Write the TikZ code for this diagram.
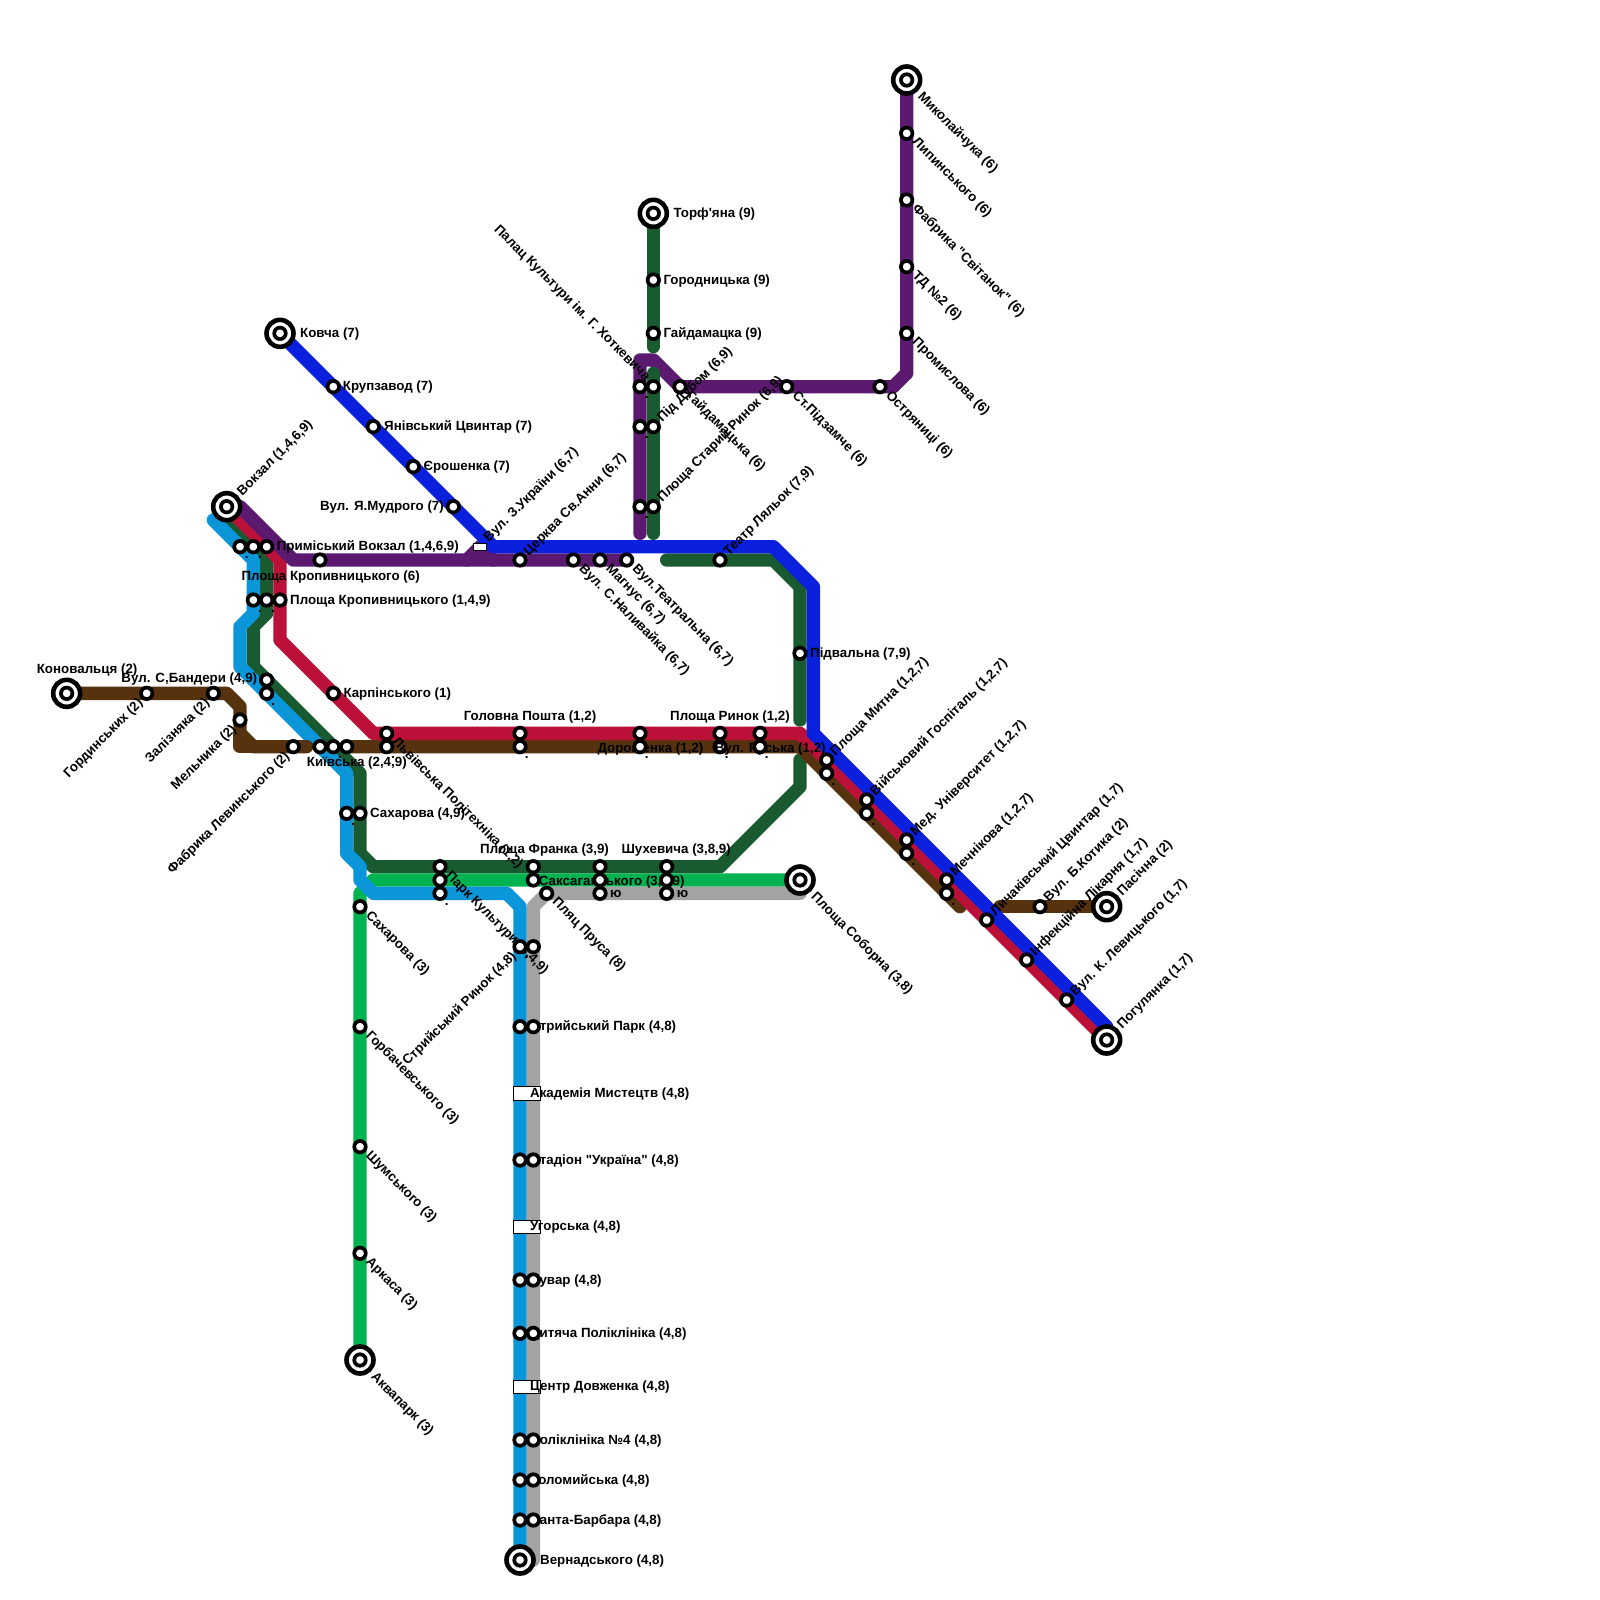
\documentclass[tikz,border=0pt]{standalone}
\usepackage{fontspec}
\newfontfamily\lblfont{Liberation Sans}
\definecolor{cDG}{HTML}{1A5A30}
\definecolor{cBG}{HTML}{00B350}
\definecolor{cGR}{HTML}{A3A3A3}
\definecolor{cLB}{HTML}{0A96D8}
\definecolor{cBR}{HTML}{57320F}
\definecolor{cRD}{HTML}{BB1138}
\definecolor{cPU}{HTML}{5B1A70}
\definecolor{cBL}{HTML}{0A20DC}
\newcounter{nid}
\newcommand\stn[2]{\stepcounter{nid}\node[stnode] (s\thenid) at (#1,#2) {};}
\newcommand\term[2]{\stepcounter{nid}\node[termouter] (t\thenid) at (#1,#2) {};\node[stnode] (s\thenid) at (#1,#2) {};}
\newcommand\rectst[4]{\stepcounter{nid}\node[rectnode,minimum width=#3*13.333pt,minimum height=#4*13.333pt] (r\thenid) at (#1,#2) {};}
\newcommand\LE[3]{\stepcounter{nid}\node[lbl,anchor=west] (l\thenid) at (#1,#2) {#3};}
\newcommand\LW[3]{\stepcounter{nid}\node[lbl,anchor=east] (l\thenid) at (#1,#2) {#3};}
\newcommand\LC[3]{\stepcounter{nid}\node[lbl] (l\thenid) at (#1,#2) {#3};}
\newcommand\LD[3]{\stepcounter{nid}\node[lbl,anchor=west,rotate=-45] (l\thenid) at ({#1+0.6},{#2+0.5}) {#3};}
\newcommand\LDT[3]{\stepcounter{nid}\node[lbl,anchor=west,rotate=-45] (l\thenid) at ({#1+1},{#2+1.1}) {#3};}
\newcommand\LU[3]{\stepcounter{nid}\node[lbl,anchor=west,rotate=45] (l\thenid) at ({#1+0.45},{#2-0.5}) {#3};}
\newcommand\LUT[3]{\stepcounter{nid}\node[lbl,anchor=west,rotate=45] (l\thenid) at ({#1+0.95},{#2-1}) {#3};}
\newcommand\LB[3]{\stepcounter{nid}\node[lbl,anchor=east,rotate=45] (l\thenid) at ({#1-0.45},{#2+0.55}) {#3};}
\newcommand\dotl[2]{\stepcounter{nid}\node[dotlbl] (d\thenid) at ({#1+0.5},{#2+0.9}) {.};}
\tikzset{
 metro/.style={line width=13.333pt,line cap=round,line join=round},
 stnode/.style={circle,draw=black,fill=white,line width=3.7pt,minimum size=11.5pt,inner sep=0pt,outer sep=0pt},
 termouter/.style={circle,draw=black,fill=white,line width=4.6pt,minimum size=27pt,inner sep=0pt,outer sep=0pt},
 rectnode/.style={rectangle,draw=black,fill=white,line width=0.8pt,inner sep=0pt,outer sep=0pt},
 lbl/.style={font=\lblfont\fontsize{13.33}{15}\selectfont\bfseries,text=black,inner sep=0pt,text height=11pt,text depth=3pt},
 dotlbl/.style={font=\lblfont\fontsize{13.33}{15}\selectfont\bfseries,text=black,inner sep=0pt,anchor=base}
}
\begin{document}
\begin{tikzpicture}[x=13.3333pt,y=-13.3333pt]
\useasboundingbox[fill=white] (0,0) rectangle (120,120);
% lines
\draw[metro,cDG] (49,16)--(49,26);
\draw[metro,cDG] (50,42)--(58,42)--(60,44)--(60,54);
\draw[metro,cDG] (17,39)--(19,41)--(20,42)--(20,46)--(19,47)--(19,50)--(27,58)--(27,64)--(28,65)--(54,65)--(60,59)--(60,57);
\draw[metro,cBG] (27,102)--(27,67)--(28,66)--(60,66);
\draw[metro,cGR] (60,67)--(41,67)--(40,68)--(40,117);
\draw[metro,cLB] (16,39)--(18,41)--(19,42)--(19,46)--(18,47)--(18,50)--(26,58)--(26,64)--(27,65)--(27,66)--(28,67)--(38,67)--(39,68)--(39,117);
\draw[metro,cBR] (5,52)--(17,52)--(18,53)--(18,55)--(19,56)--(23,56);
\draw[metro,cBR] (18,55)--(18,56)--(19,56);
\draw[metro,cBR] (26,56)--(60,56)--(72,68);
\draw[metro,cBR] (75,68)--(83,68);
\draw[metro,cRD] (17,38)--(21,42)--(21,48)--(28,55)--(60,55)--(83,78);
\draw[metro,cPU] (18,38)--(22,42)--(47,42);
\draw[metro,cPU] (35,42)--(36,41)--(37,42);
\draw[metro,cPU] (68,6)--(68,28)--(67,29)--(51,29)--(49,27)--(48,27)--(48,40);
\draw[metro,cDG] (49,28)--(49,40);
\draw[metro,cBL] (21,25)--(37,41)--(58,41)--(61,44)--(61,55)--(83,77);
% stations below the labels
\rectst{36}{41}{1}{0.55}\rectst{39.5}{82}{2}{1}\rectst{39.5}{92}{2}{1}\rectst{39.5}{104}{2}{1}
\stn{54}{56}
% labels
\LE{22.5}{25}{Ковча (7)}
\LE{50.5}{16}{Торф'яна (9)}
\LE{49.75}{21}{Городницька (9)}
\LE{49.75}{25}{Гайдамацка (9)}
\LE{25.7}{29}{Крупзавод (7)}
\LE{28.8}{32}{Янівський Цвинтар (7)}
\LE{31.75}{35}{Єрошенка (7)}
\LW{33.3}{38}{Вул. Я.Мудрого (7)}
\LE{20.75}{41}{Приміський Вокзал (1,4,6,9)}
\LE{18.1}{43.2}{Площа Кропивницького (6)}
\LE{21.75}{45}{Площа Кропивницького (1,4,9)}
\LW{19.3}{50.9}{Вул. С,Бандери (4,9)}
\LE{25.75}{52}{Карпінського (1)}
\LE{2.75}{50.2}{Коновальця (2)}
\LE{23}{57.2}{Київська (2,4,9)}
\LE{27.75}{61}{Сахарова (4,9)}
\LC{39.75}{53.7}{Головна Пошта (1,2)}
\LC{54.75}{53.7}{Площа Ринок (1,2)}
\LE{44.8}{56.1}{Дорошенка (1,2)}
\LE{53.6}{56.1}{Вул. Руська (1,2)}
\LE{36}{63.7}{Площа Франка (3,9)}
\LE{46.6}{63.7}{Шухевича (3,8,9)}
\LE{40.4}{66.1}{Саксаганського (3,8,9)}
\LE{45.75}{67}{ю}
\LE{50.75}{67}{ю}
\LE{60.75}{49}{Підвальна (7,9)}
\LE{40.5}{117}{Вернадського (4,8)}
\LE{39.75}{77}{Стрийський Парк (4,8)}
\LE{39.75}{82}{Академія Мистецтв (4,8)}
\LE{39.75}{87}{Стадіон "Україна" (4,8)}
\LE{39.75}{92}{Угорська (4,8)}
\LE{39.75}{96}{Чувар (4,8)}
\LE{39.75}{100}{Дитяча Поліклініка (4,8)}
\LE{39.75}{104}{Центр Довженка (4,8)}
\LE{39.75}{108}{Поліклініка №4 (4,8)}
\LE{39.75}{111}{Коломийська (4,8)}
\LE{39.75}{114}{Санта-Барбара (4,8)}
\LDT{68}{6}{Миколайчука (6)}
\LD{68}{10}{Липинського (6)}
\LD{68}{15}{Фабрика "Світанок" (6)}
\LD{68}{20}{ТД №2 (6)}
\LD{68}{25}{Промислова (6)}
\LD{59}{29}{Ст.Підзамче (6)}
\LD{66}{29}{Остряниці (6)}
\LD{51}{29}{Гайдамацька (6)}
\LD{43}{42}{Вул. С.Наливайка (6,7)}
\LD{45}{42}{Магнус (6,7)}
\LD{47}{42}{Вул.Театральна (6,7)}
\LD{29}{55}{Львівська Політехніка (1,2)}
\LD{33}{65}{Парк Культури (3,4,9)}
\LD{41}{67}{Пляц Пруса (8)}
\LDT{60}{66}{Площа Соборна (3,8)}
\LD{27}{68}{Сахарова (3)}
\LD{27}{77}{Горбачевського (3)}
\LD{27}{86}{Шумського (3)}
\LD{27}{94}{Аркаса (3)}
\LDT{27}{102}{Аквапарк (3)}
\stepcounter{nid}\node[lbl,anchor=east,rotate=-45] (l\thenid) at (48.6,28.4) {Палац Культури ім. Г. Хоткевича};
\LUT{17}{38}{Вокзал (1,4,6,9)}
\LU{36}{41}{Вул. З.України (6,7)}
\LU{39}{42}{Церква Св.Анни (6,7)}
\LU{49}{32}{Під Дубом (6,9)}
\LU{49}{38}{Площа Старий Ринок (6,9)}
\LU{54}{42}{Театр Ляльок (7,9)}
\LU{62}{57}{Площа Митна (1,2,7)}
\LU{65}{60}{Військовий Госпіталь (1,2,7)}
\LU{68}{63}{Мед. Університет (1,2,7)}
\LU{71}{66}{Мечнікова (1,2,7)}
\LU{74}{69}{Личаківський Цвинтар (1,7)}
\LU{78}{68}{Вул. Б.Котика (2)}
\LU{77}{72}{Інфекційна Лікарня (1,7)}
\LU{80}{75}{Вул. К. Левицького (1,7)}
\LUT{83}{68}{Пасічна (2)}
\LUT{83}{78}{Погулянка (1,7)}
\LB{11}{52}{Гординських (2)}
\LB{16}{52}{Залізняка (2)}
\LB{18}{54}{Мельника (2)}
\LB{22}{56}{Фабрика Левинського (2)}
\LB{39}{71}{Стрийський Ринок (4,8)}
% stations above the labels
\term{21}{25}\term{17}{38}\term{5}{52}\term{49}{16}\term{68}{6}\term{83}{68}\term{83}{78}\term{60}{66}\term{27}{102}\term{39}{117}
\stn{25}{29}\stn{28}{32}\stn{31}{35}\stn{34}{38}
\stn{18}{41}\stn{19}{41}\stn{20}{41}\stn{24}{42}\stn{19}{45}\stn{20}{45}\stn{21}{45}
\stn{20}{51}\stn{20}{52}\stn{25}{52}\stn{11}{52}\stn{16}{52}\stn{18}{54}\stn{22}{56}
\stn{24}{56}\stn{25}{56}\stn{26}{56}\stn{29}{55}\stn{29}{56}\stn{26}{61}\stn{27}{61}
\stn{39}{42}\stn{43}{42}\stn{45}{42}\stn{47}{42}\stn{54}{42}
\stn{39}{55}\stn{39}{56}\stn{48}{55}\stn{48}{56}\stn{54}{55}\stn{57}{55}\stn{57}{56}
\stn{33}{65}\stn{33}{66}\stn{33}{67}\stn{40}{65}\stn{40}{66}\stn{41}{67}\stn{45}{65}\stn{45}{66}\stn{45}{67}\stn{50}{65}\stn{50}{66}\stn{50}{67}
\stn{49}{21}\stn{49}{25}\stn{48}{29}\stn{49}{29}\stn{51}{29}\stn{59}{29}\stn{66}{29}\stn{48}{32}\stn{49}{32}\stn{48}{38}\stn{49}{38}
\stn{68}{10}\stn{68}{15}\stn{68}{20}\stn{68}{25}\stn{60}{49}
\stn{62}{57}\stn{62}{58}\stn{65}{60}\stn{65}{61}\stn{68}{63}\stn{68}{64}\stn{71}{66}\stn{71}{67}\stn{74}{69}\stn{78}{68}\stn{77}{72}\stn{80}{75}
\stn{27}{68}\stn{27}{77}\stn{27}{86}\stn{27}{94}
\stn{39}{71}\stn{40}{71}\stn{39}{77}\stn{40}{77}\stn{39}{87}\stn{40}{87}\stn{39}{96}\stn{40}{96}\stn{39}{100}\stn{40}{100}\stn{39}{108}\stn{40}{108}\stn{39}{111}\stn{40}{111}\stn{39}{114}\stn{40}{114}
% dots
\dotl{18}{41}\dotl{19}{41}\dotl{19}{45}\dotl{20}{45}\dotl{20}{52}\dotl{25}{56}\dotl{29}{56}\dotl{26}{61}\dotl{33}{67}\dotl{39}{71}\dotl{39}{56}\dotl{48}{56}\dotl{54}{56}\dotl{57}{56}\dotl{62}{58}\dotl{65}{61}\dotl{68}{64}\dotl{71}{67}\dotl{48}{29}\dotl{48}{32}\dotl{48}{38}
\end{tikzpicture}
\end{document}
